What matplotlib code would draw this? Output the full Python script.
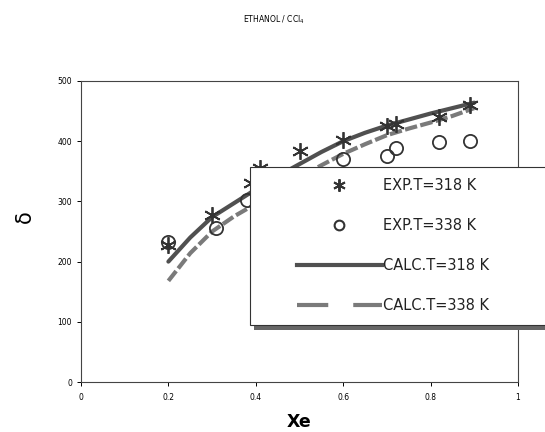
import matplotlib.pyplot as plt
from matplotlib.patches import Rectangle
from matplotlib.lines import Line2D

xe_318 = [0.20, 0.30, 0.39, 0.41, 0.50, 0.60, 0.70, 0.72, 0.82, 0.89]
d_318 = [228, 277, 330, 356, 384, 402, 426, 428, 441, 460]
xe_338 = [0.20, 0.31, 0.38, 0.60, 0.70, 0.72, 0.82, 0.89]
d_338 = [232, 255, 302, 371, 376, 388, 399, 401]

# calculated curves, read every 0.05
xc = [0.20, 0.25, 0.30, 0.35, 0.40, 0.45, 0.50, 0.55,
      0.60, 0.65, 0.70, 0.75, 0.80, 0.85, 0.90]
calc_318 = [200, 240, 274, 297, 320, 342, 362, 382,
            400, 414, 426, 436, 446, 455, 464]
calc_338 = [168, 214, 250, 275, 296, 318, 340, 360,
            379, 395, 410, 421, 431, 442, 455]

W, H = 545, 432
fig = plt.figure(figsize=(W / 100, H / 100), dpi=100)
ax = fig.add_axes([81 / W, 1 - 382 / H, 437 / W, 301 / H])

ax.plot(xc, calc_318, color='#505050', lw=3.0, solid_capstyle='round',
        solid_joinstyle='round', zorder=3)
ax.plot(xc, calc_338, color='#7a7a7a', lw=3.0, ls=(0, (3, 0.8)), zorder=3)
ax.plot(xe_318, d_318, ls='none', marker=(6, 2, 0), ms=12, mew=1.3,
        color='#333333', zorder=4)
ax.plot(xe_338, d_338, ls='none', marker='o', ms=9.5, mfc='none', mew=1.3,
        mec='#333333', zorder=4)

ax.set_xlim(0, 1)
ax.set_ylim(0, 500)
ax.set_xticks([0, 0.2, 0.4, 0.6, 0.8, 1])
ax.set_xticklabels(['0', '0.2', '0.4', '0.6', '0.8', '1'])
ax.set_yticks([0, 100, 200, 300, 400, 500])
ax.tick_params(labelsize=5.5, length=3, width=0.7, direction='out')
ax.tick_params(axis='x', pad=5)
for s in ax.spines.values():
    s.set_linewidth(0.8)
    s.set_color('#444444')

ax.set_xlabel('Xe', fontsize=12.5, fontweight='bold', labelpad=8)
ax.set_ylabel('δ', fontsize=15)
ax.yaxis.set_label_coords(-0.105, 0.551)
fig.text(274 / W, 1 - 20 / H, 'ETHANOL / CCl$_4$', fontsize=5.5, ha='center', va='center')

# legend box running off the right edge, with a shadow
fig.patches.append(Rectangle((254 / W, 1 - 330 / H), 1.0, 7 / H,
                             transform=fig.transFigure, facecolor='#666666',
                             edgecolor='none', zorder=2))
fig.patches.append(Rectangle((250 / W, 1 - 325 / H), 1.0, 158 / H,
                             transform=fig.transFigure, facecolor='white',
                             edgecolor='#333333', lw=0.8, zorder=3))

handles = [
    Line2D([], [], ls='none', marker=(6, 2, 0), ms=9, mew=1.4, color='#333333'),
    Line2D([], [], ls='none', marker='o', ms=7, mfc='none', mew=1.5, mec='#333333'),
    Line2D([], [], color='#505050', lw=3.0),
    Line2D([], [], color='#7a7a7a', lw=3.0, ls=(0, (7.5, 6, 7.5, 0))),
]
labels = ['EXP.T=318 K', 'EXP.T=338 K', 'CALC.T=318 K', 'CALC.T=338 K']
leg = fig.legend(handles, labels, loc='upper left',
                 bbox_to_anchor=(297 / W, 1 - 178 / H), frameon=False,
                 fontsize=10.5, handlelength=5.8, handletextpad=0.1,
                 labelspacing=1.72, borderpad=0, borderaxespad=0)
leg.set_zorder(6)
for t in leg.get_texts():
    t.set_color('#222222')

fig.savefig('out.png', dpi=100)
